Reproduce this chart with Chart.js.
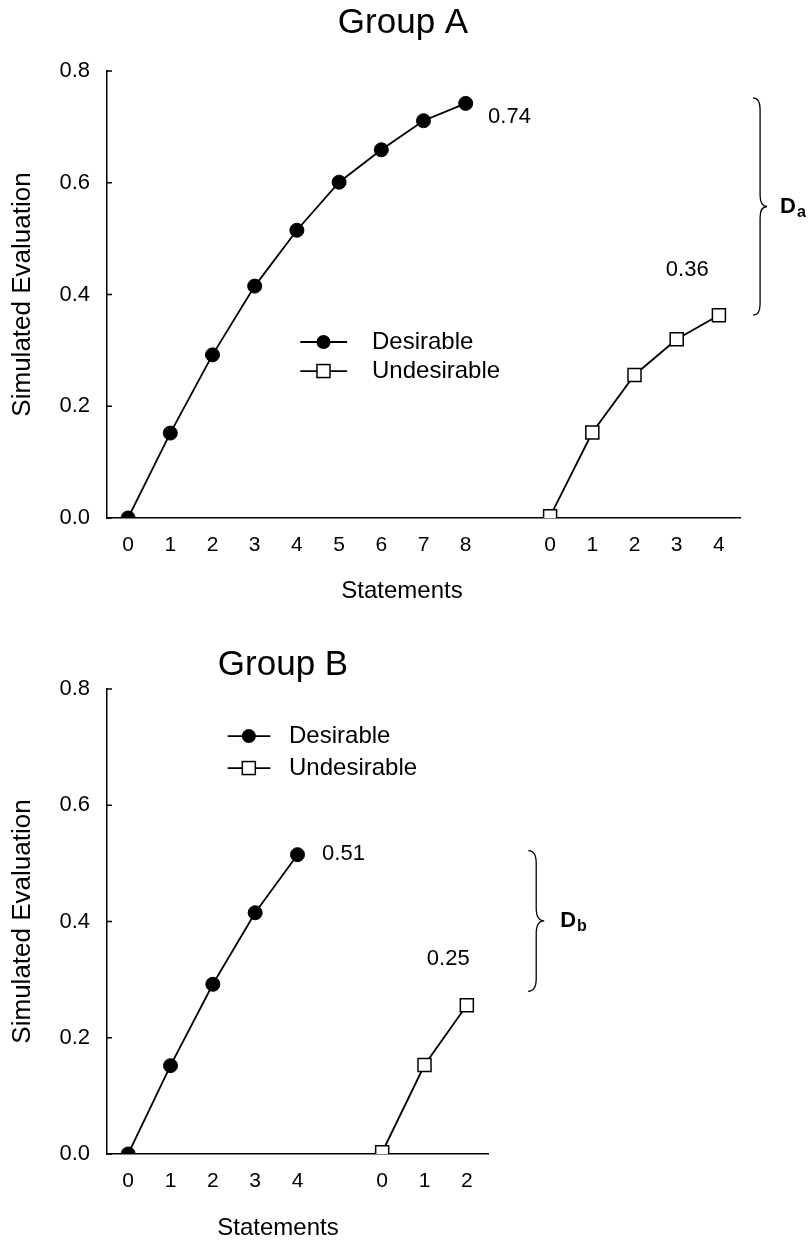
<!DOCTYPE html>
<html>
<head>
<meta charset="utf-8">
<title>Simulated Evaluation</title>
<script src="https://cdn.jsdelivr.net/npm/chart.js@4.4.1/dist/chart.umd.min.js"></script>
<style>
  html, body { margin: 0; padding: 0; background: #fff; }
  #wrap { position: relative; width: 809px; height: 1243px; }
  canvas { position: absolute; left: 0; }
  #chartA { top: 0; }
  #chartB { top: 620px; }
</style>
</head>
<body>
<div id="wrap">
  <canvas id="chartA" width="809" height="620"></canvas>
  <canvas id="chartB" width="809" height="623"></canvas>
</div>
<script>
'use strict';

// statements axis: desirable run, an empty slot, then the undesirable run
const groupALabels = ['0', '1', '2', '3', '4', '5', '6', '7', '8', '', '0', '1', '2', '3', '4'];
const groupADesirable = [0, 0.152, 0.292, 0.415, 0.515, 0.601, 0.659, 0.711, 0.742, null, null, null, null, null, null];
const groupAUndesirable = [null, null, null, null, null, null, null, null, null, null, 0.003, 0.153, 0.256, 0.32, 0.363];
const groupAEndLabels = ['0.74', '0.36'];

const groupBLabels = ['0', '1', '2', '3', '4', '', '0', '1', '2'];
const groupBDesirable = [0, 0.152, 0.292, 0.415, 0.515, null, null, null, null];
const groupBUndesirable = [null, null, null, null, null, null, 0.003, 0.153, 0.256];
const groupBEndLabels = ['0.51', '0.25'];

const yTicks = [0, 0.2, 0.4, 0.6, 0.8];
const seriesNames = ['Desirable', 'Undesirable'];

const FONT = "'Liberation Sans', Arial, Helvetica, sans-serif";

function drawBrace(ctx, x, yTop, yBot, w) {
  const yMid = (yTop + yBot) / 2;
  const r = w / 2;
  ctx.beginPath();
  ctx.moveTo(x, yTop);
  ctx.quadraticCurveTo(x + r, yTop, x + r, yTop + r * 1.6);
  ctx.lineTo(x + r, yMid - r * 1.6);
  ctx.quadraticCurveTo(x + r, yMid, x + w, yMid);
  ctx.quadraticCurveTo(x + r, yMid, x + r, yMid + r * 1.6);
  ctx.lineTo(x + r, yBot - r * 1.6);
  ctx.quadraticCurveTo(x + r, yBot, x, yBot);
  ctx.stroke();
}

function drawMarker(ctx, kind, x, y) {
  ctx.lineWidth = 1.5;
  ctx.strokeStyle = '#000';
  if (kind === 0) {
    ctx.fillStyle = '#000';
    ctx.beginPath();
    ctx.arc(x, y, 7, 0, Math.PI * 2);
    ctx.fill();
  } else {
    ctx.fillStyle = '#fff';
    ctx.fillRect(x - 6.5, y - 6.5, 13, 13);
    ctx.strokeRect(x - 6.5, y - 6.5, 13, 13);
  }
}

function notesPlugin(notes) {
  return {
    id: 'notes',
    afterDraw(chart) {
      const ctx = chart.ctx;
      const xs = chart.scales.x;
      const ys = chart.scales.y;
      const area = chart.chartArea;
      ctx.save();

      // inward ticks on the value axis
      ctx.strokeStyle = '#000';
      ctx.lineWidth = 1.5;
      yTicks.forEach(v => {
        const py = ys.getPixelForValue(v);
        ctx.beginPath();
        ctx.moveTo(area.left, py);
        ctx.lineTo(area.left + 5, py);
        ctx.stroke();
      });

      ctx.fillStyle = '#000';
      ctx.textBaseline = 'middle';

      // chart title and x title
      ctx.textAlign = 'center';
      ctx.font = '35px ' + FONT;
      ctx.fillText(notes.title.text, notes.title.x, notes.title.y);
      ctx.font = '24px ' + FONT;
      ctx.fillText(notes.xTitle.text, notes.xTitle.x, notes.xTitle.y);

      // end values
      ctx.font = '22px ' + FONT;
      notes.endLabels.forEach(l => {
        ctx.textAlign = l.align;
        ctx.fillText(l.text, xs.getPixelForValue(l.idx), ys.getPixelForValue(l.v));
      });

      // legend
      const lg = notes.legend;
      seriesNames.forEach((name, i) => {
        const py = ys.getPixelForValue(lg.rows[i]);
        ctx.strokeStyle = '#000';
        ctx.lineWidth = 1.8;
        ctx.beginPath();
        ctx.moveTo(xs.getPixelForValue(lg.x1), py);
        ctx.lineTo(xs.getPixelForValue(lg.x2), py);
        ctx.stroke();
        drawMarker(ctx, i, xs.getPixelForValue(lg.xm), py);
        ctx.fillStyle = '#000';
        ctx.textAlign = 'left';
        ctx.font = '24px ' + FONT;
        ctx.fillText(name, xs.getPixelForValue(lg.xt), py);
      });

      // brace and difference label
      const br = notes.brace;
      const bx = xs.getPixelForValue(br.idx);
      const yTop = ys.getPixelForValue(br.top);
      const yBot = ys.getPixelForValue(br.bottom);
      ctx.strokeStyle = '#000';
      ctx.lineWidth = 1.3;
      drawBrace(ctx, bx, yTop, yBot, br.w);
      const yMid = (yTop + yBot) / 2;
      const lx = bx + br.w + br.gap;
      ctx.textAlign = 'left';
      ctx.font = 'bold 22px ' + FONT;
      ctx.fillText('D', lx, yMid);
      const dw = ctx.measureText('D').width;
      ctx.font = 'bold 16px ' + FONT;
      ctx.fillText(br.sub, lx + dw + 1, yMid + 6);

      ctx.restore();
    }
  };
}

function buildChart(canvasId, labels, desirable, undesirable, pad, notes) {
  return new Chart(document.getElementById(canvasId), {
    type: 'line',
    data: {
      labels: labels,
      datasets: [{
        label: seriesNames[0],
        data: desirable,
        borderColor: '#000',
        backgroundColor: '#000',
        borderWidth: 1.8,
        pointStyle: 'circle',
        pointRadius: 7,
        pointBorderWidth: 1,
        spanGaps: false
      }, {
        label: seriesNames[1],
        data: undesirable,
        borderColor: '#000',
        backgroundColor: '#fff',
        borderWidth: 1.8,
        pointStyle: 'rect',
        pointRadius: 9.2,
        pointBorderWidth: 1.5,
        spanGaps: false
      }]
    },
    options: {
      responsive: false,
      animation: false,
      events: [],
      layout: { padding: pad },
      plugins: {
        legend: { display: false },
        tooltip: { enabled: false },
        title: { display: false }
      },
      scales: {
        x: {
          type: 'category',
          offset: true,
          grid: { display: false, drawTicks: false },
          border: { color: '#000', width: 1.5 },
          ticks: {
            color: '#000',
            font: { family: FONT, size: 21 },
            padding: 15,
            autoSkip: false,
            maxRotation: 0
          },
          afterFit: s => { s.height = 40; }
        },
        y: {
          min: 0,
          max: 0.8,
          grid: { display: false, drawTicks: false },
          border: { color: '#000', width: 1.5 },
          afterBuildTicks: s => { s.ticks = yTicks.map(v => ({ value: v })); },
          ticks: {
            color: '#000',
            font: { family: FONT, size: 22 },
            padding: 17,
            callback: v => v.toFixed(1)
          },
          title: {
            display: true,
            text: 'Simulated Evaluation',
            color: '#000',
            font: { family: FONT, size: 26 },
            padding: { top: 7, bottom: 0 }
          },
          afterFit: s => { s.width = 107; }
        }
      }
    },
    plugins: [notesPlugin(notes)]
  });
}

buildChart('chartA', groupALabels, groupADesirable, groupAUndesirable,
  { top: 71, right: 69, bottom: 62, left: 0 },
  {
    title: { text: 'Group A', x: 403, y: 23 },
    xTitle: { text: 'Statements', x: 402, y: 591 },
    endLabels: [
      { text: groupAEndLabels[0], idx: 8.53, v: 0.717, align: 'left' },
      { text: groupAEndLabels[1], idx: 13.25, v: 0.444, align: 'center' }
    ],
    legend: { x1: 4.08, x2: 5.19, xm: 4.63, xt: 5.78, rows: [0.315, 0.263] },
    brace: { idx: 14.81, w: 14, top: 0.752, bottom: 0.363, gap: 13, sub: 'a' }
  });

buildChart('chartB', groupBLabels, groupBDesirable, groupBUndesirable,
  { top: 69, right: 321, bottom: 49, left: 0 },
  {
    title: { text: 'Group B', x: 283, y: 45 },
    xTitle: { text: 'Statements', x: 278, y: 608 },
    endLabels: [
      { text: groupBEndLabels[0], idx: 4.58, v: 0.516, align: 'left' },
      { text: groupBEndLabels[1], idx: 7.56, v: 0.335, align: 'center' }
    ],
    legend: { x1: 2.35, x2: 3.36, xm: 2.85, xt: 3.8, rows: [0.719, 0.664] },
    brace: { idx: 9.45, w: 16, top: 0.522, bottom: 0.28, gap: 16, sub: 'b' }
  });
</script>
</body>
</html>
